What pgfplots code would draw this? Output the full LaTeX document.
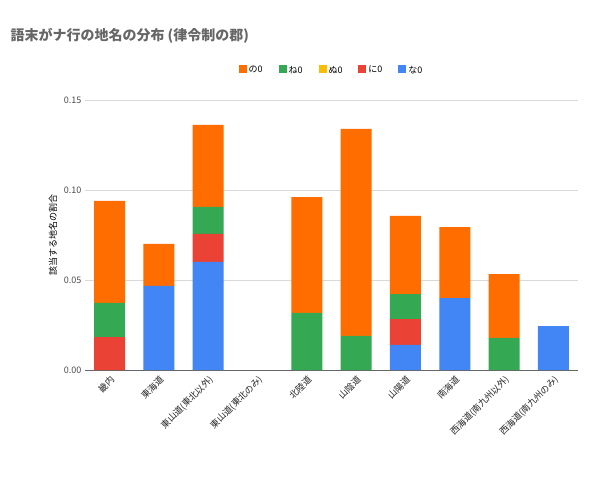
\documentclass[border=0pt]{standalone}
\usepackage{pgfplots}
\pgfplotsset{compat=1.18}
\usepackage{fontspec}
\setmainfont{Noto Sans CJK JP}
\definecolor{cna}{HTML}{4285F4}
\definecolor{cni}{HTML}{EA4335}
\definecolor{cnu}{HTML}{FBBC04}
\definecolor{cne}{HTML}{34A853}
\definecolor{cno}{HTML}{FF6D01}
\begin{document}
\begin{tikzpicture}
\useasboundingbox[fill=white] (-85pt,-109pt) rectangle (515pt,370pt);
\node[anchor=west,text=black!60,font=\fontsize{14}{16}\selectfont\bfseries] at (-78pt,334pt) {語末がナ行の地名の分布 (律令制の郡)};
\begin{axis}[
  at={(0,0)}, anchor=south west,
  width=493pt, height=270pt, scale only axis,
  ybar stacked, bar width=31pt,
  xmin=-0.5, xmax=9.5, ymin=0, ymax=0.15,
  xtick={0,...,9},
  xticklabels={畿内,東海道,東山道(東北以外),東山道(東北のみ),北陸道,山陰道,山陽道,南海道,西海道(南九州以外),西海道(南九州のみ)},
  x tick label style={rotate=45,anchor=north east,font=\fontsize{9}{10}\selectfont,text=black!85},
  ytick={0,0.05,0.1,0.15},
  yticklabel style={/pgf/number format/.cd,fixed,fixed zerofill,precision=2,/tikz/.cd,font=\fontsize{9}{10}\selectfont,text=black!70},
  /pgf/number format/assume math mode=true,
  ylabel={該当する地名の割合}, ylabel style={font=\fontsize{9}{10}\selectfont},
  ymajorgrids, grid style={black!15},
  axis line style={draw=none}, major tick length=0pt,
  extra y ticks={0}, extra y tick style={grid style={black!60}, yticklabels={}},
  legend style={at={(0.5,1.11)},anchor=center,draw=none,legend columns=-1,font=\fontsize{9}{10}\selectfont,/tikz/every even column/.append style={column sep=14pt}},
  legend image code/.code={\fill[#1] (0,-3pt) rectangle (8pt,5pt);},
  reverse legend,
]
\addplot[fill=cna,draw=none] coordinates {(0,0)(1,0.0467)(2,0.06)(3,0)(4,0)(5,0)(6,0.0139)(7,0.04)(8,0)(9,0.0244)};
\addplot[fill=cni,draw=none] coordinates {(0,0.0183)(1,0)(2,0.0156)(3,0)(4,0)(5,0)(6,0.0144)(7,0)(8,0)(9,0)};
\addplot[fill=cnu,draw=none] coordinates {(0,0)(1,0)(2,0)(3,0)(4,0)(5,0)(6,0)(7,0)(8,0)(9,0)};
\addplot[fill=cne,draw=none] coordinates {(0,0.019)(1,0)(2,0.015)(3,0)(4,0.0317)(5,0.0189)(6,0.0139)(7,0)(8,0.0178)(9,0)};
\addplot[fill=cno,draw=none] coordinates {(0,0.0567)(1,0.0233)(2,0.0456)(3,0)(4,0.0644)(5,0.115)(6,0.0434)(7,0.0394)(8,0.0355)(9,0)};
\legend{な0,に0,ぬ0,ね0,の0}
\end{axis}
\end{tikzpicture}
\end{document}
